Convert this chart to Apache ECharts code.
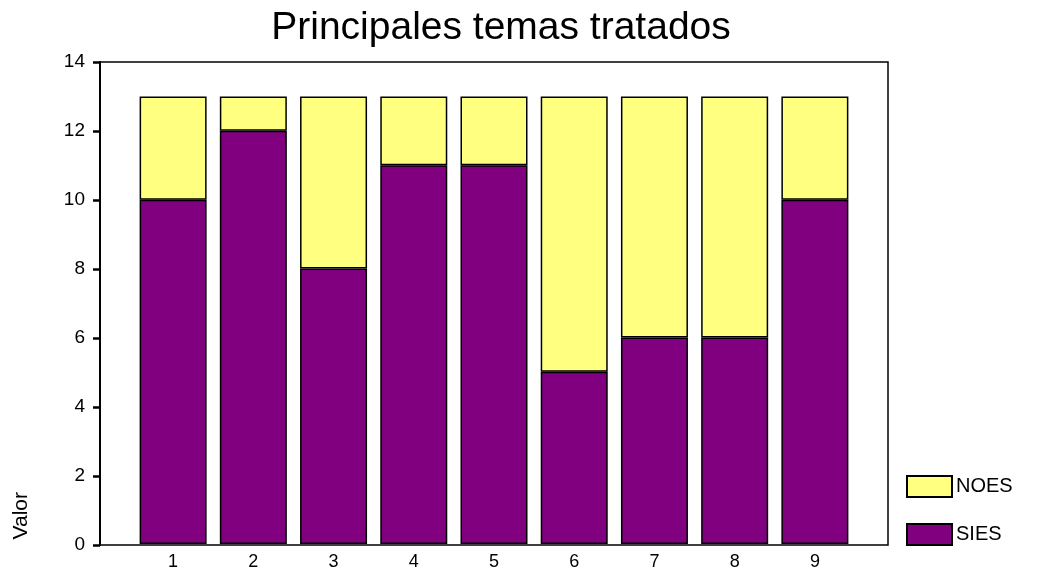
<!DOCTYPE html>
<html>
<head>
<meta charset="utf-8">
<script src="https://cdn.jsdelivr.net/npm/echarts@6/dist/echarts.min.js"></script>
<style>
  html, body { margin: 0; padding: 0; background: #fff; }
  #chart { width: 1037px; height: 571px; }
</style>
</head>
<body>
<div id="chart"></div>
<script>
// categories (temas) and values
const categories = ['1', '2', '3', '4', '5', '6', '7', '8', '9']
const siesValues = [10, 12, 8, 11, 11, 5, 6, 6, 10]
const noesValues = [3, 1, 5, 2, 2, 8, 7, 7, 3]

const FONT = '"Liberation Sans", Arial, sans-serif'

let chart = echarts.init(document.getElementById('chart'))

let option = {
  backgroundColor: '#fff',
  animation: false,
  title: {
    text: 'Principales temas tratados',
    left: 496,
    textAlign: 'center',
    top: 4,
    textStyle: {
      fontFamily: FONT,
      fontWeight: 'normal',
      fontSize: 39,
      color: '#000',
    },
  },
  legend: {
    orient: 'vertical',
    left: 901,
    top: 470,
    itemWidth: 45,
    itemHeight: 21,
    itemGap: 25,
    icon: 'rect',
    data: ['NOES', 'SIES'],
    textStyle: {
      fontFamily: FONT,
      fontSize: 20,
      color: '#000',
      padding: [0, 0, 0, -1],
    },
  },
  grid: [
    // outer frame
    {
      left: 100,
      right: 149,
      top: 62,
      bottom: 26,
      show: true,
      borderColor: '#000',
      borderWidth: 1.5,
      backgroundColor: 'transparent',
    },
    // bars
    {
      left: 133,
      right: 182,
      top: 62,
      bottom: 26,
    },
  ],
  xAxis: [
    { type: 'value', gridIndex: 0, show: false, min: 0, max: 1 },
    {
      type: 'category',
      gridIndex: 1,
      data: categories,
      axisLine: { show: false },
      axisTick: {
        alignWithLabel: true,
        length: 4,
        lineStyle: { color: '#000', width: 4 },
      },
      axisLabel: {
        color: '#000',
        fontFamily: FONT,
        fontSize: 18,
        margin: 9,
      },
    },
  ],
  yAxis: [
    {
      type: 'value',
      gridIndex: 0,
      min: 0,
      max: 14,
      interval: 2,
      axisLine: { show: true, lineStyle: { color: '#000', width: 2 } },
      axisTick: { show: true, length: 7, lineStyle: { color: '#000', width: 2.5 } },
      splitLine: { show: false },
      axisLabel: {
        color: '#000',
        fontFamily: FONT,
        fontSize: 19,
        margin: 15,
      },
    },
    { type: 'value', gridIndex: 1, min: 0, max: 14, show: false },
  ],
  graphic: [
    {
      type: 'text',
      left: 11,
      top: 492,
      rotation: Math.PI / 2,
      style: {
        text: 'Valor',
        fontFamily: FONT,
        fontSize: 21,
        fill: '#000',
      },
    },
  ],
  series: [
    {
      name: 'SIES',
      type: 'bar',
      stack: 'total',
      xAxisIndex: 1,
      yAxisIndex: 1,
      barWidth: 67,
      data: siesValues,
      itemStyle: { color: '#800080', borderColor: '#000', borderWidth: 1.5 },
    },
    {
      name: 'NOES',
      type: 'bar',
      stack: 'total',
      xAxisIndex: 1,
      yAxisIndex: 1,
      barWidth: 67,
      data: noesValues,
      itemStyle: { color: '#ffff80', borderColor: '#000', borderWidth: 1.5 },
    },
  ],
}

chart.setOption(option)
</script>
</body>
</html>
